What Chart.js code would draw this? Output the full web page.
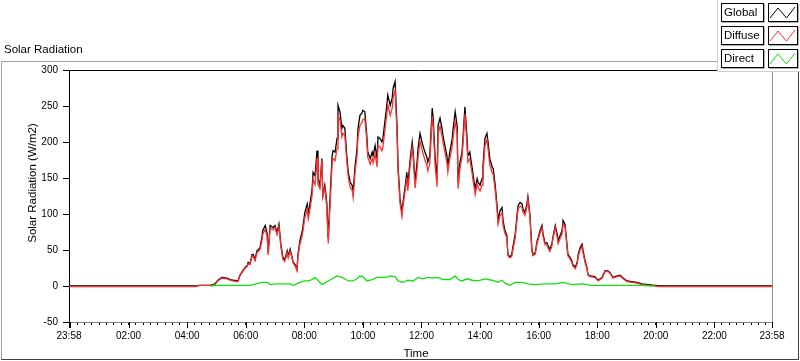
<!DOCTYPE html>
<html>
<head>
<meta charset="utf-8">
<script src="https://cdn.jsdelivr.net/npm/chart.js@4.4.1/dist/chart.umd.min.js"></script>
<style>
  html, body { margin: 0; padding: 0; background: #fff; }
  canvas { display: block; }
</style>
</head>
<body>
<canvas id="solarChart" width="800" height="361"></canvas>
<script>
// time of each sample, minutes after midnight (-2 = 23:58 the day before)
const minutes = [
  -2, 256, 266, 287, 297, 303, 311, 322, 328, 334,
  344, 348, 354, 359, 363, 365, 369, 373, 375, 379,
  383, 389, 393, 395, 400, 404, 406, 410, 416, 420,
  424, 428, 432, 436, 440, 445, 447, 451, 455, 457,
  461, 465, 467, 471, 475, 477, 481, 486, 488, 492,
  496, 498, 502, 506, 508, 512, 516, 518, 522, 526,
  529, 533, 537, 539, 543, 547, 549, 553, 557, 559,
  563, 567, 570, 574, 578, 580, 584, 588, 590, 594,
  598, 600, 604, 608, 610, 615, 619, 621, 625, 629,
  631, 635, 639, 641, 645, 649, 651, 656, 660, 662,
  666, 670, 672, 676, 680, 682, 686, 690, 692, 697,
  701, 703, 707, 711, 713, 717, 721, 723, 727, 731,
  733, 737, 742, 744, 748, 752, 754, 758, 762, 764,
  768, 772, 774, 778, 783, 785, 789, 793, 795, 799,
  803, 805, 809, 813, 815, 819, 824, 826, 830, 834,
  836, 840, 844, 846, 850, 854, 856, 860, 865, 867,
  871, 875, 877, 881, 885, 887, 891, 895, 897, 901,
  905, 907, 912, 916, 918, 922, 926, 928, 932, 936,
  938, 942, 946, 948, 953, 957, 959, 963, 967, 969,
  973, 977, 979, 983, 987, 989, 994, 998, 1000, 1004,
  1008, 1010, 1014, 1018, 1020, 1024, 1028, 1030, 1035, 1039,
  1041, 1045, 1049, 1051, 1055, 1059, 1061, 1065, 1075, 1082,
  1090, 1096, 1102, 1106, 1112, 1121, 1127, 1133, 1141, 1151,
  1161, 1172, 1184, 1198, 1209, 1438
];

const globalW = [
  0, 0, 1, 1, 3, 8, 12, 11, 9, 8,
  7, 15, 21, 26, 28, 33, 31, 44, 44, 37,
  49, 53, 67, 77, 84, 72, 46, 84, 81, 84,
  74, 86, 58, 40, 37, 49, 42, 51, 40, 33,
  30, 23, 44, 63, 74, 81, 102, 114, 100, 116,
  135, 158, 153, 188, 149, 140, 177, 126, 140, 116,
  66, 126, 181, 188, 186, 205, 251, 242, 219, 223,
  219, 181, 158, 144, 140, 130, 167, 191, 219, 237,
  240, 244, 242, 209, 186, 177, 186, 181, 195, 177,
  207, 205, 200, 205, 228, 251, 265, 251, 261, 275,
  284, 220, 167, 121, 102, 116, 135, 158, 140, 177,
  200, 186, 144, 172, 191, 212, 200, 195, 186, 179,
  172, 181, 247, 233, 177, 149, 223, 233, 219, 209,
  195, 181, 167, 186, 205, 219, 242, 223, 144, 172,
  186, 205, 249, 209, 181, 186, 163, 153, 135, 149,
  144, 140, 149, 167, 205, 212, 202, 177, 165, 163,
  140, 110, 91, 105, 109, 91, 77, 70, 44, 40,
  44, 53, 72, 100, 112, 116, 114, 107, 102, 114,
  124, 100, 53, 44, 46, 63, 67, 77, 84, 72,
  60, 60, 56, 51, 58, 67, 84, 72, 63, 70,
  77, 91, 86, 58, 44, 40, 35, 30, 26, 33,
  44, 53, 58, 49, 35, 26, 16, 14, 13, 8,
  12, 21, 21, 19, 12, 14, 15, 11, 7, 6,
  5, 3, 2, 1, 0, 0
];

const diffuseW = [
  -1, -1, 1, 1, 2, 7, 11, 10, 8, 7,
  6, 14, 20, 25, 27, 31, 30, 42, 41, 35,
  46, 50, 62, 72, 79, 68, 43, 81, 78, 81,
  71, 83, 55, 37, 34, 46, 39, 48, 38, 32,
  28, 21, 41, 58, 68, 75, 95, 107, 93, 108,
  126, 148, 141, 178, 141, 135, 175, 124, 136, 110,
  59, 116, 171, 177, 174, 191, 238, 230, 207, 212,
  209, 173, 151, 137, 133, 123, 158, 181, 207, 223,
  227, 231, 232, 202, 179, 169, 177, 171, 184, 165,
  195, 193, 188, 193, 216, 239, 252, 237, 247, 262,
  271, 210, 160, 115, 97, 111, 129, 151, 132, 169,
  192, 179, 136, 162, 179, 201, 190, 185, 175, 168,
  160, 170, 236, 222, 166, 138, 211, 222, 209, 200,
  186, 172, 158, 177, 194, 207, 228, 212, 135, 164,
  179, 197, 239, 199, 172, 177, 155, 145, 127, 142,
  137, 132, 140, 157, 195, 203, 193, 168, 157, 155,
  133, 104, 86, 98, 101, 85, 73, 67, 42, 39,
  41, 49, 67, 95, 107, 111, 109, 102, 98, 110,
  121, 97, 50, 42, 44, 61, 64, 74, 81, 69,
  57, 57, 53, 48, 55, 64, 81, 68, 59, 66,
  72, 86, 82, 55, 42, 38, 33, 28, 24, 31,
  41, 50, 55, 46, 33, 24, 15, 13, 12, 7,
  11, 20, 20, 18, 11, 13, 14, 10, 6, 5,
  4, 2, 1, 0, -1, -1
];

// direct radiation is only logged while the sun is up
const directMinutes = [
  287, 301, 369, 393, 404, 410, 424, 451, 457, 461,
  471, 475, 481, 488, 496, 502, 508, 516, 522, 529,
  537, 547, 557, 563, 570, 580, 588, 594, 600, 608,
  619, 629, 639, 649, 656, 666, 672, 680, 686, 692,
  703, 713, 723, 733, 744, 754, 764, 778, 789, 795,
  803, 813, 824, 836, 850, 865, 877, 885, 891, 901,
  912, 926, 938, 953, 973, 994, 1010, 1028, 1049, 1069,
  1106, 1167, 1198
];
const directW = [
  0, 1, 1, 5, 5, 2, 3, 3, 1, 2,
  5, 6, 7, 7, 9, 12, 8, 2, 4, 7,
  10, 14, 12, 10, 7, 7, 10, 14, 13, 7,
  9, 12, 12, 12, 14, 13, 7, 5, 6, 8,
  7, 12, 10, 12, 11, 12, 9, 9, 14, 9,
  7, 10, 8, 7, 10, 8, 5, 8, 4, 1,
  5, 5, 3, 2, 3, 3, 5, 2, 3, 1,
  1, 1, 0
];

const tickMinutes = [-2, 120, 240, 360, 480, 600, 720, 840, 960, 1080, 1200, 1320, 1438];
const tickLabels = ['23:58', '02:00', '04:00', '06:00', '08:00', '10:00', '12:00',
  '14:00', '16:00', '18:00', '20:00', '22:00', '23:58'];

const seriesNames = ['Global', 'Diffuse', 'Direct'];
const seriesColors = ['#000000', '#ff3030', '#10e010'];

if (minutes.length !== globalW.length || minutes.length !== diffuseW.length) {
  throw new Error('length mismatch ' + minutes.length + ' ' + globalW.length + ' ' + diffuseW.length);
}
if (directMinutes.length !== directW.length) {
  throw new Error('direct length mismatch');
}

const FONT = '"Liberation Sans", Arial, sans-serif';

// minor ticks every 15 minutes plus the two 23:58 ends
const xTicks = [-2];
for (let m = 0; m <= 1425; m += 15) xTicks.push(m);
xTicks.push(1438);

const panelPlugin = {
  id: 'panel',
  beforeDraw(chart) {
    const ctx = chart.ctx;
    ctx.save();
    ctx.fillStyle = '#fff';
    ctx.fillRect(0, 0, chart.width, chart.height);

    // frame round the graph
    ctx.lineWidth = 1;
    ctx.strokeStyle = '#a0a0a0';
    ctx.beginPath();
    ctx.moveTo(1.5, 359);
    ctx.lineTo(1.5, 61.5);
    ctx.lineTo(799, 61.5);
    ctx.stroke();
    ctx.strokeStyle = '#404040';
    ctx.beginPath();
    ctx.moveTo(1, 359.5);
    ctx.lineTo(798.5, 359.5);
    ctx.lineTo(798.5, 61);
    ctx.stroke();

    ctx.fillStyle = '#000';
    ctx.font = '11.5px ' + FONT;
    ctx.textBaseline = 'middle';
    ctx.fillText('Solar Radiation', 4, 50);
    ctx.restore();
  },
  afterDraw(chart) {
    const ctx = chart.ctx;
    const area = chart.chartArea;
    const xs = chart.scales.x;
    ctx.save();
    ctx.lineWidth = 1;

    // plot top and right border
    ctx.strokeStyle = '#000';
    ctx.beginPath();
    ctx.moveTo(area.left, area.top + 0.5);
    ctx.lineTo(area.right, area.top + 0.5);
    ctx.stroke();
    ctx.strokeStyle = '#909090';
    ctx.beginPath();
    ctx.moveTo(area.right + 0.5, area.top);
    ctx.lineTo(area.right + 0.5, area.bottom);
    ctx.stroke();

    // longer major ticks
    ctx.strokeStyle = '#000';
    [0].concat(tickMinutes).forEach((m) => {
      const px = Math.round(xs.getPixelForValue(m)) + 0.5;
      ctx.beginPath();
      ctx.moveTo(px, area.bottom);
      ctx.lineTo(px, area.bottom + 6);
      ctx.stroke();
    });

    // axis titles
    ctx.fillStyle = '#000';
    ctx.font = '11.5px ' + FONT;
    ctx.textAlign = 'center';
    ctx.textBaseline = 'middle';
    ctx.fillText('Time', 416, 354);
    ctx.save();
    ctx.translate(33, 183);
    ctx.rotate(-Math.PI / 2);
    ctx.fillText('Solar Radiation (W/m2)', 0, 0);
    ctx.restore();

    // legend panel, top right
    ctx.fillStyle = '#fff';
    ctx.fillRect(717, 0, 83, 72);
    ctx.strokeStyle = '#d0d0d0';
    ctx.beginPath();
    ctx.moveTo(717.5, 0);
    ctx.lineTo(717.5, 71.5);
    ctx.lineTo(800, 71.5);
    ctx.stroke();

    ctx.textAlign = 'left';
    seriesNames.forEach((name, i) => {
      const top = 3 + i * 23;
      const h = 18;
      // shadows
      ctx.strokeStyle = '#b0b0b0';
      ctx.beginPath();
      ctx.moveTo(722, top + h + 1.5);
      ctx.lineTo(764.5, top + h + 1.5);
      ctx.lineTo(764.5, top + 1);
      ctx.moveTo(769, top + h + 1.5);
      ctx.lineTo(798.5, top + h + 1.5);
      ctx.lineTo(798.5, top + 1);
      ctx.stroke();
      // boxes
      ctx.strokeStyle = '#000';
      ctx.strokeRect(721.5, top + 0.5, 42, h);
      ctx.strokeRect(768.5, top + 0.5, 29, h);
      ctx.fillStyle = '#000';
      ctx.fillText(name, 724, top + 10);
      // sample line
      ctx.strokeStyle = seriesColors[i];
      ctx.beginPath();
      ctx.moveTo(770, top + 15);
      ctx.lineTo(778, top + 5);
      ctx.lineTo(786.5, top + 15);
      ctx.lineTo(795, top + 4);
      ctx.stroke();
    });
    ctx.restore();
  }
};

const tickFont = { family: FONT, size: 10 };

new Chart(document.getElementById('solarChart'), {
  type: 'line',
  data: {
    datasets: [
      {
        label: seriesNames[0],
        data: minutes.map((m, i) => ({ x: m, y: globalW[i] })),
        borderColor: seriesColors[0],
        order: 2
      },
      {
        label: seriesNames[1],
        data: minutes.map((m, i) => ({ x: m, y: diffuseW[i] })),
        borderColor: seriesColors[1],
        order: 1
      },
      {
        label: seriesNames[2],
        data: directMinutes.map((m, i) => ({ x: m, y: directW[i] })),
        borderColor: seriesColors[2],
        order: 0
      }
    ]
  },
  options: {
    responsive: false,
    animation: false,
    layout: { padding: { left: 0, top: 70, right: 28, bottom: 0 } },
    plugins: {
      legend: { display: false },
      tooltip: { enabled: false }
    },
    elements: {
      point: { radius: 0 },
      line: { borderWidth: 1.3, tension: 0 }
    },
    scales: {
      x: {
        type: 'linear',
        min: -2,
        max: 1438,
        afterBuildTicks: (scale) => {
          scale.ticks = xTicks.map((v) => ({ value: v }));
        },
        afterFit: (scale) => { scale.height = 39; },
        ticks: {
          autoSkip: false,
          maxRotation: 0,
          padding: 5,
          color: '#000',
          font: tickFont,
          callback: (v) => {
            const i = tickMinutes.indexOf(v);
            return i >= 0 ? tickLabels[i] : '';
          }
        },
        grid: { drawOnChartArea: false, tickLength: 3, tickColor: '#000' },
        border: { color: '#808080' }
      },
      y: {
        min: -50,
        max: 300,
        afterFit: (scale) => { scale.width = 69; },
        ticks: { stepSize: 50, padding: 5, color: '#000', font: tickFont },
        grid: { drawOnChartArea: false, tickLength: 6, tickColor: '#000' },
        border: { color: '#000' }
      }
    }
  },
  plugins: [panelPlugin]
});
</script>
</body>
</html>
